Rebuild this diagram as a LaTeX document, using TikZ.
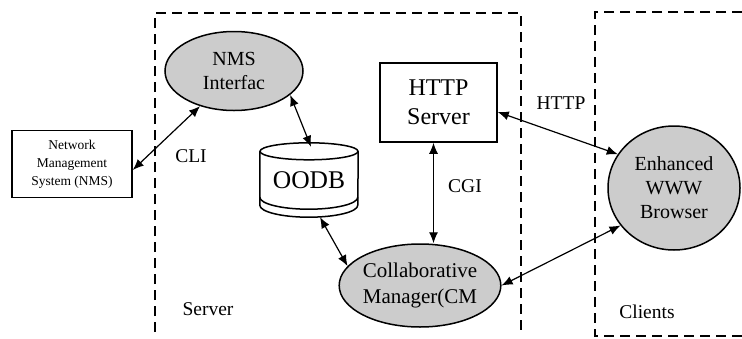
\documentclass[tikz,border=0pt]{standalone}
\usepackage{fontspec}
\setmainfont{Liberation Serif}
\usetikzlibrary{shapes.geometric,arrows.meta}

\begin{document}
\begin{tikzpicture}[x=1pt, y=-1pt,
		proc/.style = {ellipse, draw, line width=1.5pt, fill=black!20, inner sep=0pt, align=center, font=\fontsize{20}{24}\selectfont},
		sysbox/.style = {rectangle, draw, line width=1.5pt, inner sep=0pt, align=center},
		lbl/.style = {font=\fontsize{19.5}{24}\selectfont},
		bidir/.style = {{Latex[length=11pt,width=9pt]}-{Latex[length=11pt,width=9pt]}, line width=1.2pt},
		bound/.style = {line width=1.6pt, dash pattern=on 10pt off 6pt}]
			\useasboundingbox (0,0) rectangle (742,338);
			% server and clients regions
			\draw[bound] (155,332) -- (155,13) -- (521,13) -- (521,332);
			\draw[bound] (742,12) -- (595,12) -- (595,336) -- (742,336);
			% components
			\node[sysbox, minimum width=120pt, minimum height=67pt, font=\fontsize{13.5}{18}\selectfont] (nms) at (72,164) {Network\\Management\\System (NMS)};
			\node[proc, minimum width=138pt, minimum height=79pt] (nmsif) at (234,71) {NMS\\Interfac};
			\node[minimum width=98pt, minimum height=74pt, inner sep=0pt, font=\fontsize{25.5}{30}\selectfont] (oodb) at (309,180) {OODB};
			\node[sysbox, minimum width=117pt, minimum height=79pt, font=\fontsize{24}{29}\selectfont] (http) at (438.5,102.5) {HTTP\\Server};
			\node[proc, minimum width=156pt, minimum height=83pt, font=\fontsize{21}{26}\selectfont] (cm) at (420,285.5) {Collaborative\\Manager(CM};
			\node[proc, minimum width=132pt, minimum height=124pt] (browser) at (674,188) {Enhanced\\WWW\\Browser};
			% database drum
			\draw[line width=1.5pt] ([yshift=-8.5pt]oodb.north) ellipse [x radius=49pt, y radius=8.5pt];
			\draw[line width=1.5pt] ([yshift=-8.5pt]oodb.north west) -- ([yshift=12pt]oodb.south west)
				arc[start angle=180, end angle=360, x radius=49pt, y radius=12pt] -- ([yshift=-8.5pt]oodb.north east);
			\draw[line width=1.5pt] ([yshift=20pt]oodb.south west) arc[start angle=180, end angle=360, x radius=49pt, y radius=12pt];
			% links
			\coordinate (cgitop) at ([xshift=-5pt]http.south);
			\draw[bidir] ([yshift=-6pt]nms.east) -- (nmsif.226);
			\draw[bidir] (nmsif.337) -- ([xshift=2pt,yshift=-4pt]oodb.north);
			\draw[bidir] ([xshift=11pt]oodb.south) -- (cm.165);
			\draw[bidir] (cgitop) -- (cgitop |- cm.north);
			\draw[bidir] ([yshift=-9.5pt]http.east) -- (browser.149);
			\draw[bidir] (cm.east) -- (browser.215);
			% labels
			\node[lbl] (cli) at (191,156) {CLI};
			\node[lbl] (httplbl) at (561,103) {HTTP};
			\node[lbl] (cgi) at (465,186) {CGI};
			\node[lbl] (srv) at (208,309) {Server};
			\node[lbl] (clients) at (647,312) {Clients};
		\end{tikzpicture}
\end{document}
